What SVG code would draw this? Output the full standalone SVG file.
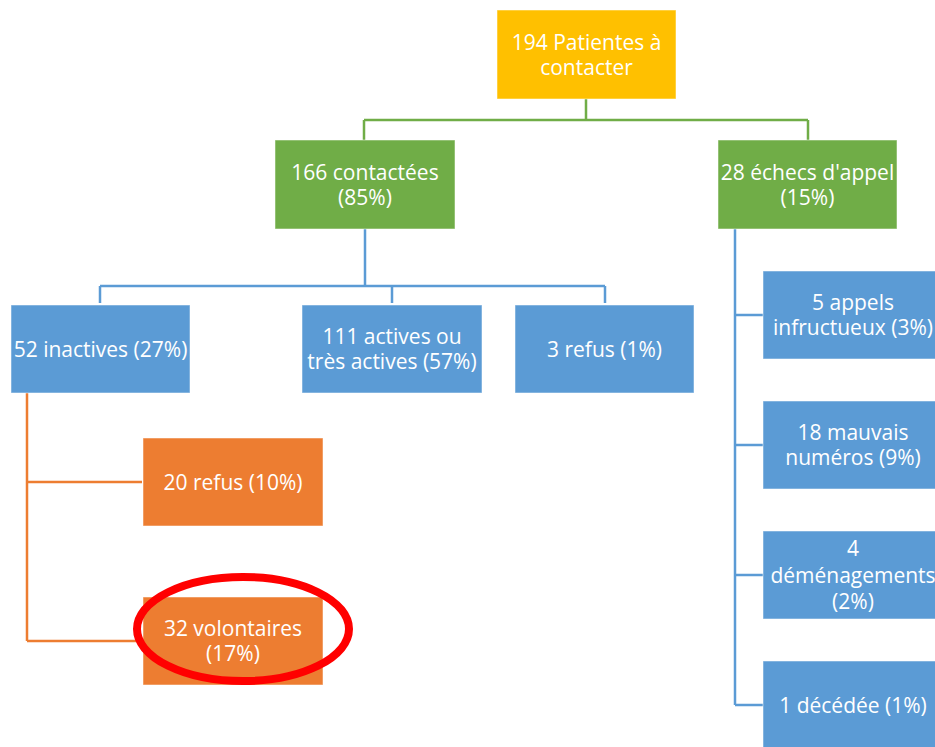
<svg xmlns="http://www.w3.org/2000/svg" width="935" height="747" viewBox="0 0 935 747">
<style>
.t{font-family:"Open Sans","Noto Sans","Liberation Sans",sans-serif;font-size:21px;fill:#fff;text-anchor:middle}
.b{stroke:#fff;stroke-opacity:0.5;stroke-width:1}
.y{fill:#FFC000}.g{fill:#70AD47}.bl{fill:#5B9BD5}.o{fill:#ED7D31}
.cg{fill:none;stroke:#70AD47;stroke-width:2.5}
.cb{fill:none;stroke:#5B9BD5;stroke-width:2.5}
.co{fill:none;stroke:#ED7D31;stroke-width:2.5}
</style>
<rect width="935" height="747" fill="#fff"/>
<g id="connectors">
<path class="cg" d="M586,99V120M364,120H808M364,120V140M808,120V140"/>
<path class="cb" d="M365,229V286M100,286H605M100,286V303M392,286V303M605,286V303"/>
<path class="cb" d="M735,229V705M735,315H763M735,445H763M735,575H763M735,705H763"/>
<path class="co" d="M27,393V641M27,482H142M27,641H142"/>
</g>
<g id="n194"><rect class="y b" x="497" y="10" width="179" height="89"/><text class="t" x="586.5" y="49.5">194 Patientes à</text><text class="t" x="586.5" y="75">contacter</text></g>
<g id="n166"><rect class="g b" x="275" y="140" width="180" height="89"/><text class="t" x="365" y="179.5">166 contactées</text><text class="t" x="365" y="205">(85%)</text></g>
<g id="n28"><rect class="g b" x="718" y="140" width="179" height="89"/><text class="t" x="807.5" y="179.5">28 échecs d'appel</text><text class="t" x="807.5" y="205">(15%)</text></g>
<g id="n52"><rect class="bl b" x="11" y="305" width="179" height="88"/><text class="t" x="100.5" y="356.5">52 inactives (27%)</text></g>
<g id="n111"><rect class="bl b" x="302" y="305" width="180" height="88"/><text class="t" x="392" y="343.5">111 actives ou</text><text class="t" x="392" y="369">très actives (57%)</text></g>
<g id="n3"><rect class="bl b" x="515" y="305" width="179" height="88"/><text class="t" x="604.5" y="356.5">3 refus (1%)</text></g>
<g id="n5"><rect class="bl b" x="763" y="271" width="180" height="88"/><text class="t" x="853" y="309.5">5 appels</text><text class="t" x="853" y="335">infructueux (3%)</text></g>
<g id="n18"><rect class="bl b" x="763" y="401" width="180" height="88"/><text class="t" x="853" y="439.5">18 mauvais</text><text class="t" x="853" y="465">numéros (9%)</text></g>
<g id="n4"><rect class="bl b" x="763" y="531" width="180" height="88"/><text class="t" x="853" y="556">4</text><text class="t" x="853" y="582.5">déménagements</text><text class="t" x="853" y="609">(2%)</text></g>
<g id="n1"><rect class="bl b" x="763" y="661" width="180" height="88"/><text class="t" x="853" y="712.5">1 décédée (1%)</text></g>
<g id="n20"><rect class="o b" x="143" y="438" width="180" height="88"/><text class="t" x="233" y="489.5">20 refus (10%)</text></g>
<g id="n32"><rect class="o b" x="143" y="597" width="180" height="88"/><text class="t" x="233" y="635.5">32 volontaires</text><text class="t" x="233" y="661">(17%)</text></g>
<ellipse cx="243" cy="629" rx="106" ry="52" fill="none" stroke="#FF0000" stroke-width="8"/>
</svg>
